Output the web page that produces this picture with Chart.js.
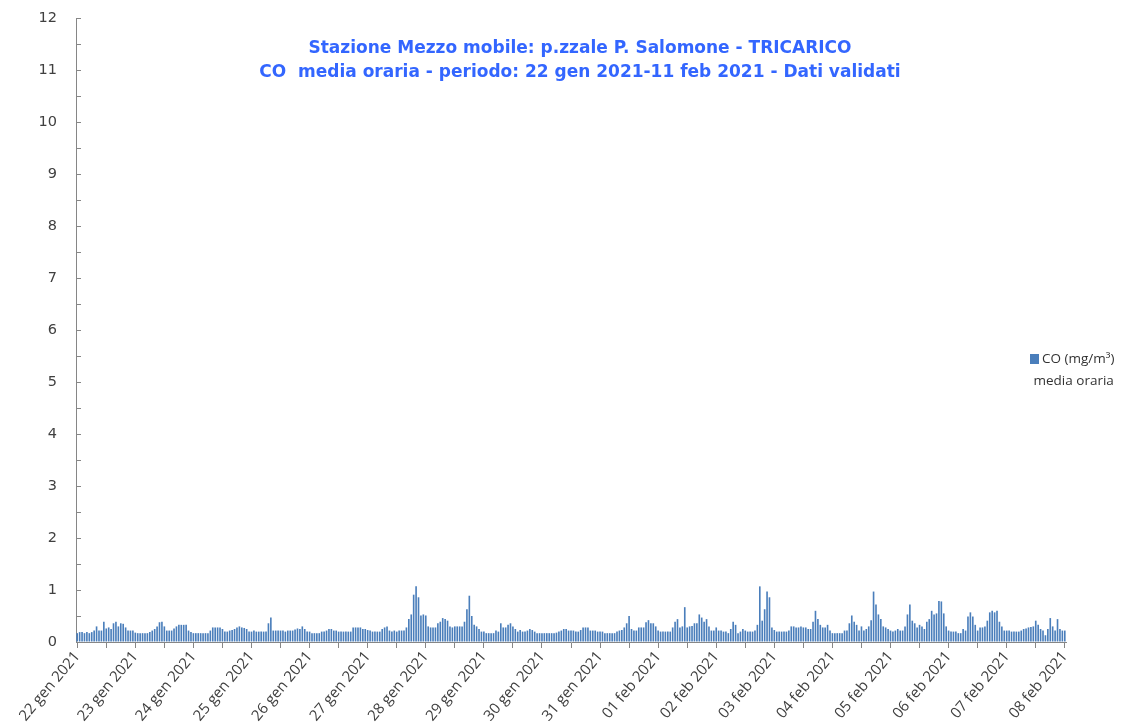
<!DOCTYPE html>
<html>
<head>
<meta charset="utf-8">
<title>CO media oraria - TRICARICO</title>
<script src="https://cdn.jsdelivr.net/npm/chart.js@4/dist/chart.umd.min.js"></script>
<style>
  body { margin: 0; background: #fff; }
  #wrap { position: relative; width: 1141px; height: 726px; }
  #titolo {
    position: absolute; left: 180px; width: 800px; top: 35px;
    text-align: center; color: #3366ff; white-space: pre;
    font: bold 17px "DejaVu Sans", sans-serif; line-height: 24px;
  }
  #legenda {
    position: absolute; left: 1030px; top: 347px; color: #333;
    font: 13.5px "Open Sans", sans-serif; line-height: 22px;
  }
  #legenda .box { display: inline-block; width: 9px; height: 10px; background: #4a7ebb; margin-right: 3px; vertical-align: -1px; }
</style>
</head>
<body>
<div id="wrap">
  <canvas id="coChart"></canvas>
  <div id="titolo">Stazione Mezzo mobile: p.zzale P. Salomone - TRICARICO
CO  media oraria - periodo: 22 gen 2021-11 feb 2021 - Dati validati</div>
  <div id="legenda"><span class="box"></span>CO (mg/m³)<br>&nbsp;media oraria</div>
</div>
<script>
// etichette dei giorni (una ogni 24 ore)
const dayLabels = ['22 gen 2021', '23 gen 2021', '24 gen 2021', '25 gen 2021', '26 gen 2021',
  '27 gen 2021', '28 gen 2021', '29 gen 2021', '30 gen 2021', '31 gen 2021', '01 feb 2021',
  '02 feb 2021', '03 feb 2021', '04 feb 2021', '05 feb 2021', '06 feb 2021', '07 feb 2021', '08 feb 2021'];

const yTicks = [0, 1, 2, 3, 4, 5, 6, 7, 8, 9, 10, 11, 12];

// CO media oraria (mg/m3), un array per giorno
const gen22 = [0.17,0.19,0.19,0.17,0.19,0.17,0.19,0.22,0.3,0.22,0.22,0.39,0.26,0.28,0.25,0.36,0.39,0.3,0.36,0.35,0.28,0.22,0.22,0.22];
const gen23 = [0.18,0.17,0.17,0.17,0.17,0.17,0.19,0.22,0.25,0.3,0.38,0.39,0.3,0.22,0.22,0.22,0.26,0.3,0.33,0.33,0.33,0.33,0.22,0.19];
const gen24 = [0.17,0.17,0.17,0.17,0.17,0.17,0.17,0.22,0.28,0.28,0.28,0.28,0.25,0.2,0.2,0.22,0.23,0.25,0.28,0.3,0.28,0.27,0.25,0.2];
const gen25 = [0.2,0.22,0.2,0.2,0.2,0.2,0.2,0.36,0.47,0.22,0.22,0.22,0.22,0.22,0.2,0.22,0.22,0.22,0.24,0.26,0.25,0.3,0.25,0.2];
const gen26 = [0.2,0.17,0.17,0.17,0.17,0.2,0.2,0.22,0.25,0.25,0.22,0.22,0.2,0.2,0.2,0.2,0.2,0.2,0.28,0.28,0.28,0.28,0.25,0.25];
const gen27 = [0.23,0.22,0.2,0.2,0.2,0.2,0.25,0.28,0.3,0.22,0.2,0.22,0.2,0.22,0.22,0.22,0.28,0.44,0.53,0.91,1.07,0.86,0.51,0.53];
const gen28 = [0.51,0.3,0.28,0.28,0.28,0.36,0.39,0.46,0.44,0.41,0.3,0.28,0.3,0.3,0.3,0.3,0.39,0.63,0.89,0.5,0.33,0.3,0.25,0.2];
const gen29 = [0.2,0.17,0.17,0.17,0.17,0.22,0.2,0.36,0.28,0.28,0.33,0.36,0.3,0.25,0.2,0.23,0.2,0.2,0.22,0.25,0.23,0.2,0.17,0.17];
const gen30 = [0.17,0.17,0.17,0.17,0.17,0.17,0.18,0.2,0.22,0.25,0.25,0.22,0.22,0.22,0.2,0.2,0.23,0.28,0.28,0.28,0.22,0.22,0.22,0.2];
const gen31 = [0.2,0.2,0.17,0.17,0.17,0.17,0.17,0.2,0.22,0.23,0.28,0.36,0.5,0.25,0.22,0.22,0.28,0.28,0.28,0.38,0.42,0.36,0.36,0.3];
const feb01 = [0.22,0.2,0.2,0.2,0.2,0.2,0.28,0.39,0.44,0.28,0.3,0.67,0.28,0.3,0.31,0.36,0.36,0.53,0.47,0.39,0.44,0.3,0.22,0.22];
const feb02 = [0.28,0.22,0.22,0.2,0.2,0.17,0.25,0.39,0.33,0.17,0.2,0.25,0.22,0.2,0.2,0.2,0.22,0.33,1.07,0.41,0.63,0.97,0.86,0.28];
const feb03 = [0.23,0.2,0.2,0.2,0.2,0.2,0.22,0.3,0.3,0.28,0.28,0.3,0.28,0.28,0.25,0.25,0.39,0.6,0.44,0.33,0.28,0.28,0.33,0.22];
const feb04 = [0.17,0.17,0.17,0.17,0.17,0.22,0.22,0.36,0.51,0.39,0.33,0.22,0.3,0.22,0.25,0.3,0.42,0.97,0.72,0.53,0.44,0.3,0.28,0.25];
const feb05 = [0.22,0.2,0.22,0.25,0.22,0.22,0.3,0.53,0.72,0.41,0.36,0.28,0.33,0.3,0.25,0.39,0.44,0.6,0.53,0.55,0.79,0.78,0.55,0.3];
const feb06 = [0.22,0.2,0.2,0.2,0.17,0.17,0.25,0.22,0.49,0.57,0.49,0.33,0.22,0.28,0.28,0.3,0.41,0.57,0.6,0.57,0.6,0.39,0.3,0.22];
const feb07 = [0.22,0.22,0.2,0.2,0.2,0.2,0.22,0.25,0.26,0.28,0.29,0.3,0.41,0.33,0.25,0.22,0.13,0.25,0.46,0.3,0.22,0.44,0.25,0.22];
const feb08 = [0.22];

const giorni = [gen22, gen23, gen24, gen25, gen26, gen27, gen28, gen29, gen30, gen31,
  feb01, feb02, feb03, feb04, feb05, feb06, feb07, feb08];

// costruisco le categorie orarie
const labels = [];
const valori = [];
giorni.forEach((g, d) => {
    g.forEach((v, h) => {
        labels.push(dayLabels[d] + ' ' + String(h).padStart(2, '0') + ':00');
        valori.push(v);
    });
});

// tacche dell'asse y disegnate verso l'interno (come in Excel)
const tacchePlugin = {
    id: 'tacche',
    afterDraw(chart) {
        const y = chart.scales.y;
        const c = chart.ctx;
        c.save();
        c.strokeStyle = '#868686';
        c.lineWidth = 1;
        y.ticks.forEach(t => {
            const py = Math.round(y.getPixelForValue(t.value)) + 0.5;
            c.beginPath();
            c.moveTo(y.right, py);
            c.lineTo(y.right + 5, py);
            c.stroke();
        });
        c.restore();
    }
};

function initChart() {
    const ctx = document.getElementById('coChart').getContext('2d');
    new Chart(ctx, {
        type: 'bar',
        data: {
            labels: labels,
            datasets: [{
                label: 'CO (mg/m³) media oraria',
                data: valori,
                backgroundColor: '#4a7ebb',
                barPercentage: 0.75,
                categoryPercentage: 0.9
            }]
        },
        options: {
            responsive: true,
            maintainAspectRatio: false,
            animation: false,
            layout: { padding: { top: 18, right: 75, left: 0, bottom: 0 } },
            plugins: {
                legend: { display: false },
                title: { display: false },
                tooltip: { enabled: false }
            },
            scales: {
                x: {
                    afterFit: s => { s.height = 84; },
                    border: { color: '#868686', width: 1 },
                    grid: {
                        offset: false,
                        drawOnChartArea: false,
                        tickLength: 6,
                        tickColor: c => (c.index % 12 === 0 ? '#868686' : 'rgba(0,0,0,0)')
                    },
                    ticks: {
                        autoSkip: false,
                        minRotation: 50,
                        maxRotation: 50,
                        padding: 0,
                        color: '#404040',
                        font: { family: 'Open Sans', size: 15 },
                        callback: (val, i) => (i % 24 === 0 ? dayLabels[i / 24] : '')
                    }
                },
                y: {
                    min: 0,
                    max: 12,
                    afterFit: s => {
                        s.width = 76;
                        s.paddingTop = 0;
                        s.paddingBottom = 0;
                    },
                    afterBuildTicks: s => {
                        s.ticks = [];
                        yTicks.forEach((t, i) => {
                            s.ticks.push({ value: t });
                            if (i < yTicks.length - 1) s.ticks.push({ value: t + 0.5 });
                        });
                    },
                    border: { color: '#868686', width: 1 },
                    grid: {
                        drawOnChartArea: false,
                        drawTicks: false
                    },
                    ticks: {
                        padding: 19,
                        color: '#404040',
                        font: { family: 'DejaVu Sans', size: 14.5 },
                        callback: v => (Number.isInteger(v) ? String(v) : '')
                    }
                }
            }
        },
        plugins: [tacchePlugin]
    });
}

document.addEventListener('DOMContentLoaded', initChart);
</script>
</body>
</html>
